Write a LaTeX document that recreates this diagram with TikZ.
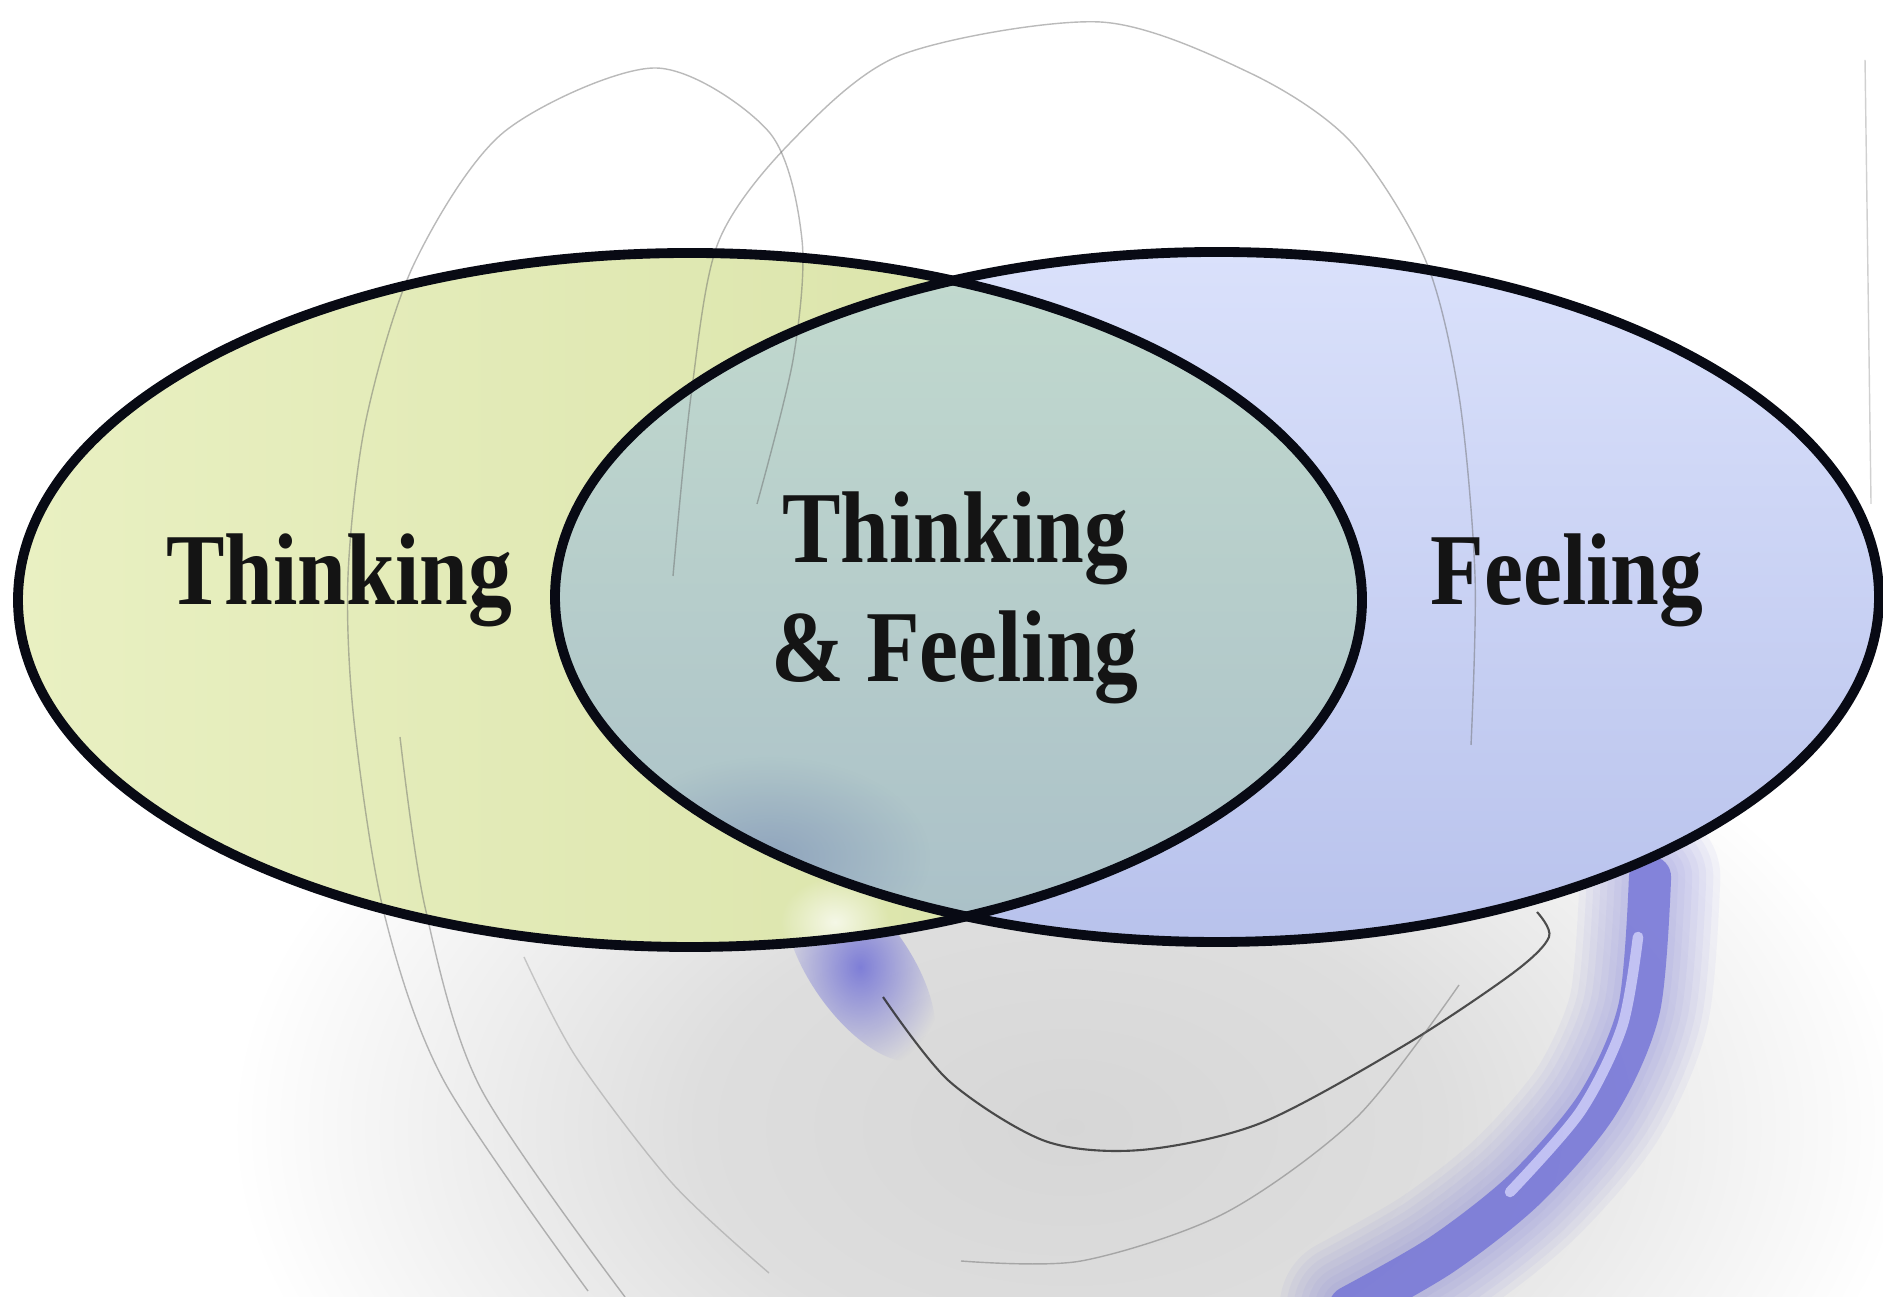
\documentclass[tikz,border=0pt]{standalone}
\usepackage{fontspec}
\newfontfamily\labelfont{Liberation Serif}[FakeStretch=0.86]
\usetikzlibrary{fadings}

\definecolor{thinkA}{RGB}{233,240,194}
\definecolor{thinkB}{RGB}{214,224,162}
\definecolor{feelA}{RGB}{218,225,251}
\definecolor{feelB}{RGB}{184,194,236}
\definecolor{bothA}{RGB}{194,218,206}
\definecolor{bothB}{RGB}{170,192,200}
\definecolor{bothC}{RGB}{120,140,180}
\definecolor{glowcol}{RGB}{110,110,214}
\definecolor{glowlight}{RGB}{222,222,255}
\definecolor{rimcol}{RGB}{8,10,20}

\pgfdeclareradialshading{floorshade}{\pgfpoint{0bp}{0bp}}{color(0bp)=(black!16); color(11bp)=(black!13); color(25bp)=(white); color(50bp)=(white)}
\tikzfading[name=softspot, inner color=transparent!0, outer color=transparent!100]

\begin{document}
\begin{tikzpicture}[
    set/.style={line width=2.8pt, draw=rimcol},
    swirl/.style={draw=black!60, line width=0.4pt, opacity=0.45},
    glow/.style={line cap=round, draw=glowcol},
    setlabel/.style={font=\labelfont\bfseries\fontsize{29}{34}\selectfont, text=black!92, align=center}
  ]
  \useasboundingbox (0,0) rectangle (18.83,12.97);
  \fill[white] (0,0) rectangle (18.83,12.97);

  \coordinate (thinkc) at (6.90,6.97);
  \coordinate (feelc) at (12.17,7.00);

  % shadow under the sets
  \shade[shading=floorshade] (10.7,1.7) ellipse (8.4 and 5.2);

  % purple glow
  \foreach \w in {40,36,...,16}
    \draw[glow, line width=\w pt, opacity=0.06] plot[smooth] coordinates {(16.5,4.2) (16.39,2.88) (15.97,1.92) (15.25,1.08) (14.41,0.42) (13.5,-0.1)};
  \draw[glow, line width=12pt, opacity=0.75] plot[smooth] coordinates {(16.5,4.2) (16.39,2.88) (15.97,1.92) (15.25,1.08) (14.41,0.42) (13.5,-0.1)};
  \draw[line width=3pt, draw=glowlight, opacity=0.7, line cap=round] plot[smooth] coordinates {(16.38,3.6) (16.22,2.7) (15.8,1.85) (15.1,1.05)};
  \fill[glowcol, opacity=0.85, path fading=softspot, rotate around={-55:(8.6,3.3)}] (8.6,3.3) ellipse (1.1 and 0.5);

  % the two sets
  \shade[left color=thinkA, right color=thinkB] (thinkc) ellipse (6.72 and 3.47);
  \shade[top color=feelA, bottom color=feelB] (feelc) ellipse (6.62 and 3.45);
  \begin{scope}
    \clip (thinkc) ellipse (6.72 and 3.47);
    \shade[top color=bothA, bottom color=bothB] (feelc) ellipse (6.62 and 3.45);
    \clip (feelc) ellipse (6.62 and 3.45);
    \fill[bothC, opacity=0.55, path fading=softspot] (7.7,4.4) ellipse (1.6 and 1.0);
  \end{scope}
  \begin{scope}
    \clip (thinkc) ellipse (6.72 and 3.47);
    \fill[white, opacity=0.7, path fading=softspot] (8.35,3.75) ellipse (0.55 and 0.45);
  \end{scope}

  % swirls
  \draw[swirl] plot[smooth] coordinates {(5.88,0.06) (4.44,2.16) (3.84,3.84) (3.54,5.76) (3.48,7.21) (3.66,8.77) (4.14,10.33) (5.04,11.65) (6.55,12.29) (7.69,11.65) (8.02,10.57) (7.93,9.37) (7.57,7.93)};
  \draw[swirl] plot[smooth] coordinates {(6.25,0.0) (4.8,2.1) (4.25,3.9) (4.0,5.6)};
  \draw[swirl] plot[smooth] coordinates {(6.73,7.21) (6.91,9.01) (7.18,10.54) (7.90,11.54) (9.01,12.42) (11.00,12.75) (12.50,12.24) (13.50,11.56) (14.25,10.38) (14.59,9.01) (14.75,7.21) (14.71,5.52)};
  \draw[swirl, opacity=0.3] plot[smooth] coordinates {(5.24,3.40) (5.76,2.40) (6.72,1.14) (7.69,0.24)};
  \draw[swirl, draw=black!85, line width=0.6pt, opacity=0.8] plot[smooth] coordinates {(8.83,3.00) (9.49,2.16) (10.45,1.56) (11.41,1.47) (12.61,1.74) (14.05,2.52) (15.13,3.24) (15.49,3.60) (15.37,3.85)};
  \draw[swirl] plot[smooth] coordinates {(14.59,3.12) (13.57,1.80) (12.25,0.84) (10.81,0.36) (9.61,0.36)};
  \draw[swirl, opacity=0.3] (18.65,12.37) -- (18.71,7.93);

  % outlines
  \draw[set] (thinkc) ellipse (6.72 and 3.47);
  \draw[set] (feelc) ellipse (6.62 and 3.45);

  \node[setlabel] (thinking) at (3.39,7.17) {Thinking};
  \node[setlabel] (both) at (9.55,6.99) {Thinking\\\& Feeling};
  \node[setlabel] (feeling) at (15.67,7.17) {Feeling};
\end{tikzpicture}
\end{document}
